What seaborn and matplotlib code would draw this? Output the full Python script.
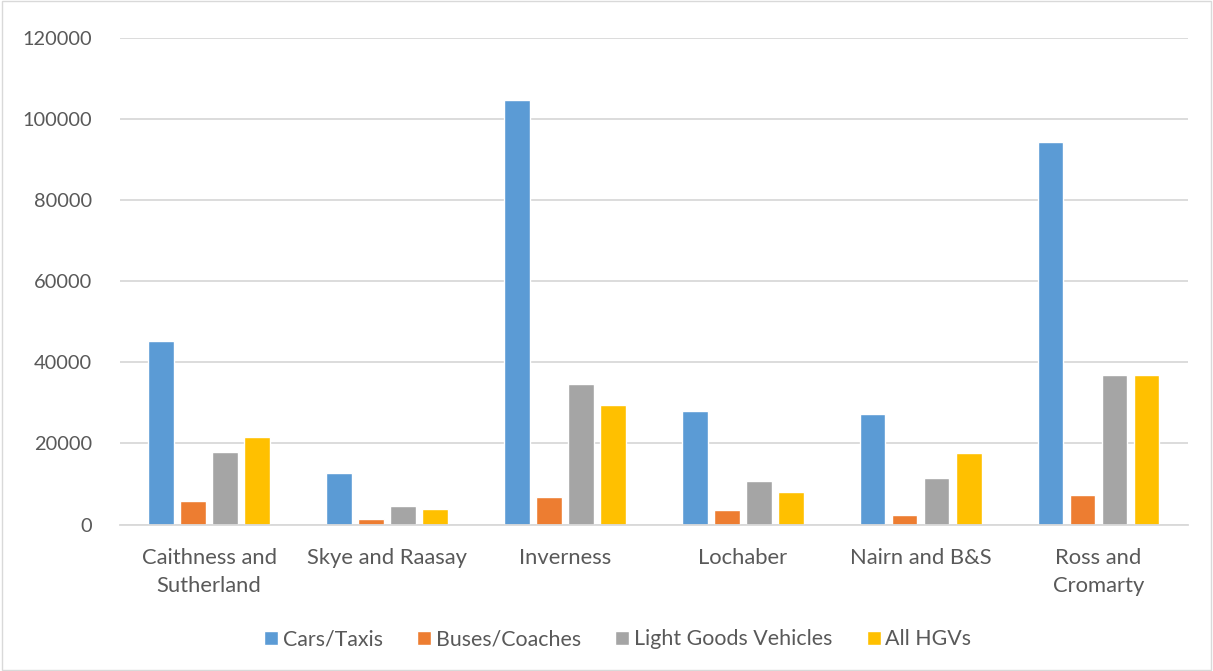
import matplotlib
matplotlib.use("Agg")
import matplotlib.pyplot as plt
import seaborn as sns
import pandas as pd
from matplotlib.patches import Rectangle

categories = ["Caithness and\nSutherland", "Skye and Raasay", "Inverness", "Lochaber", "Nairn and B&S", "Ross and\nCromarty"]
series_names = ["Cars/Taxis", "Buses/Coaches", "Light Goods Vehicles", "All HGVs"]
cars = [45200, 12800, 104600, 27900, 27200, 94400]
buses = [5800, 1450, 6900, 3600, 2300, 7200]
lgv = [17900, 4500, 34700, 10800, 11400, 36900]
hgv = [21600, 3850, 29400, 8100, 17700, 36800]
yticks = [0, 20000, 40000, 60000, 80000, 100000, 120000]
colors = ["#5B9BD5", "#ED7D31", "#A5A5A5", "#FFC000"]

rows = []
for name, vals in zip(series_names, [cars, buses, lgv, hgv]):
    for c, v in zip(categories, vals):
        rows.append({"Area": c, "Vehicle": name, "Value": v})
df = pd.DataFrame(rows)

sns.set_style("white")
plt.rcParams["font.family"] = ["Lato", "DejaVu Sans"]
text_color = "#595959"

fig = plt.figure(figsize=(12.13, 6.71), dpi=100)
ax = fig.add_axes([0.099, 0.2183, 0.88, 0.7251])
sns.barplot(data=df, x="Area", y="Value", hue="Vehicle", hue_order=series_names,
            order=categories, palette=colors, width=0.72, gap=0.2, ax=ax,
            saturation=1, errorbar=None, legend=True)

ax.set_ylim(0, 120000)
ax.set_yticks(yticks)
ax.set_yticklabels([str(t) for t in yticks])
ax.yaxis.grid(True, color="#D9D9D9", linewidth=1.3)
ax.set_axisbelow(True)
for s in ["top", "right", "left"]:
    ax.spines[s].set_visible(False)
ax.spines["bottom"].set_color("#D9D9D9")
ax.spines["bottom"].set_linewidth(1.3)
ax.set_xlabel("")
ax.set_ylabel("")
ax.tick_params(axis="both", length=0, colors=text_color)
ax.tick_params(axis="y", labelsize=14.4, pad=20)
ax.tick_params(axis="x", labelsize=15.8, pad=17)
for lbl in ax.get_xticklabels():
    lbl.set_linespacing(1.5)
ax.set_xlim(-0.5, 5.5)

leg = ax.legend(loc="center", bbox_to_anchor=(0.4663, -0.236), ncol=4, frameon=False,
                fontsize=15.4, handlelength=0.655, handleheight=0.655, handletextpad=0.23,
                columnspacing=1.59)
for t in leg.get_texts():
    t.set_color(text_color)

fig.patches.append(Rectangle((0.002, 0.002), 0.996, 0.996, transform=fig.transFigure,
                             fill=False, edgecolor="#D9D9D9", linewidth=1))
fig.savefig("out.png", dpi=100, facecolor="white")
